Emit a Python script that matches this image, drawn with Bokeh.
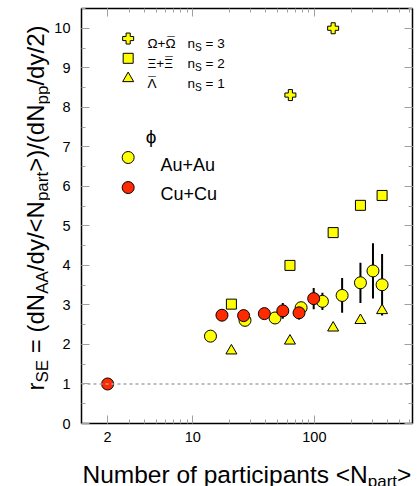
import numpy as np
from bokeh.plotting import figure
from bokeh.layouts import row, column
from bokeh.models import (Label, LogAxis, LinearAxis, FixedTicker, SingleIntervalTicker,
                          Span, Range1d, BasicTickFormatter)
from bokeh.embed import file_html
from bokeh.resources import INLINE

# ---------------- data ----------------
omega_npart = [63.5, 142.6]
omega_rse = [8.31, 10.0]

xi_npart = [20.8, 63.0, 142.6, 239.0, 360.0]
xi_rse = [3.02, 4.00, 4.83, 5.52, 5.77]
xi_err = [0.0, 0.0, 0.0, 0.0, 0.12]

lam_npart = [20.8, 63.0, 142.6, 239.0, 360.0]
lam_rse = [1.84, 2.09, 2.42, 2.61, 2.86]

auau_npart = [14.0, 26.9, 47.5, 77.8, 116.4, 169.0, 239.0, 303.0, 360.0]
auau_rse = [2.21, 2.61, 2.67, 2.93, 3.09, 3.24, 3.56, 3.86, 3.51]
auau_err = [0.0, 0.0, 0.0, 0.12, 0.22, 0.44, 0.51, 0.70, 0.78]

cucu_npart = [2.0, 17.4, 26.2, 38.8, 55.0, 74.8, 98.7]
cucu_rse = [1.00, 2.74, 2.73, 2.78, 2.85, 2.80, 3.16]
cucu_err = [0.0, 0.0, 0.0, 0.0, 0.20, 0.17, 0.27]

x_ticks = [2, 10, 100]
x_tick_labels = ["2", "10", "100"]
y_ticks = list(range(0, 11))
y_tick_labels = [str(v) for v in y_ticks]

# legend: (left part, barred symbol, n_S)
legend_prefix = ["Ω+", "Ξ+", ""]
legend_barred = ["Ω", "Ξ", "Λ"]
legend_ns = ["3", "2", "1"]

# ---------------- style ----------------
FONT = "Liberation Sans"
YELLOW = "#ffff00"
RED = "#ff2a00"
TICK = "#a0a0a0"

W = {' ': 278, '(': 333, ')': 333, '/': 278, '<': 584, '>': 584, '=': 584, '+': 584,
     'A': 667, 'E': 667, 'N': 722, 'S': 667, 'a': 556, 'd': 556, 'e': 556, 'm': 833,
     'b': 556, 'r': 333, 'o': 556, 'f': 278, 'p': 556, 't': 278, 'i': 222, 'c': 500,
     'n': 556, 's': 500, 'u': 556, 'y': 500, 'Ω': 768, 'Ξ': 667, 'Λ': 667}
for ch in "0123456789":
    W[ch] = 556


def tw(s, size):
    return sum(W.get(c, 556) for c in s) / 1000.0 * size


# page layout: y-title strip (x 0..50), main plot (x 50..420, y 0..449), x-title strip (y 449..486)
YW, MW, MH, TOTH = 50, 370, 449, 486

p = figure(width=MW, height=MH, x_axis_type="log",
           x_range=Range1d(1.22, 640), y_range=Range1d(0, 10.5),
           output_backend="svg", toolbar_location=None, frame_align=False,
           min_border_left=31, min_border_right=8, min_border_top=8, min_border_bottom=26)
p.xgrid.visible = False
p.ygrid.visible = False
p.background_fill_color = "white"
p.border_fill_color = "white"
p.outline_line_color = "black"
p.outline_line_width = 1.5

x_minor = [m * 10 ** e for e in (0, 1, 2) for m in range(2, 10)]


def style_axis(ax, labels=True):
    ax.axis_line_color = None
    ax.major_tick_line_color = TICK
    ax.minor_tick_line_color = TICK
    ax.major_tick_in = 8
    ax.major_tick_out = 0
    ax.minor_tick_in = 4
    ax.minor_tick_out = 0
    ax.major_label_text_font = FONT
    ax.major_label_text_font_size = "14.5px"
    ax.major_label_text_color = "black"
    if not labels:
        ax.major_label_text_font_size = "1px"
        ax.major_label_text_color = None
        ax.major_label_standoff = 0


p.xaxis.ticker = FixedTicker(ticks=x_ticks, minor_ticks=x_minor)
p.xaxis.formatter = BasicTickFormatter()
p.xaxis.major_label_overrides = {t: l for t, l in zip(x_ticks, x_tick_labels)}
p.yaxis.ticker = SingleIntervalTicker(interval=1, num_minor_ticks=2)
p.yaxis.major_label_overrides = {t: l for t, l in zip(y_ticks, y_tick_labels)}
for ax in p.xaxis:
    style_axis(ax)
    ax.major_label_standoff = 8
for ax in p.yaxis:
    style_axis(ax)
    ax.major_label_standoff = 11

top = LogAxis(ticker=FixedTicker(ticks=x_ticks, minor_ticks=x_minor),
              formatter=BasicTickFormatter())
style_axis(top, labels=False)
p.add_layout(top, "above")
right = LinearAxis(ticker=SingleIntervalTicker(interval=1, num_minor_ticks=2))
style_axis(right, labels=False)
p.add_layout(right, "right")

# reference line at unity
p.add_layout(Span(location=1, dimension="width", line_color="#a8a8a8",
                  line_dash="3 3", line_width=1.5))

# error bars
au_x = np.array(auau_npart); au_y = np.array(auau_rse); au_e = np.array(auau_err)
cu_x = np.array(cucu_npart); cu_y = np.array(cucu_rse); cu_e = np.array(cucu_err)
xi_x = np.array(xi_npart); xi_y = np.array(xi_rse); xi_e = np.array(xi_err)
for xx, yy, ee in ((au_x, au_y, au_e), (cu_x, cu_y, cu_e), (xi_x, xi_y, xi_e)):
    m = ee > 0
    p.segment(x0=xx[m], y0=(yy - ee)[m], x1=xx[m], y1=(yy + ee)[m],
              line_color="black", line_width=2)

MK = dict(line_color="black", line_width=1)
p.scatter(auau_npart, auau_rse, marker="circle", size=12, fill_color=YELLOW, **MK)
p.scatter(xi_npart, xi_rse, marker="square", size=10, fill_color=YELLOW, **MK)
p.scatter(lam_npart, lam_rse, marker="triangle", size=11, fill_color=YELLOW, **MK)
p.scatter(omega_npart, omega_rse, marker="plus", size=11, fill_color=YELLOW, **MK)
p.scatter(cucu_npart, cucu_rse, marker="circle", size=12, fill_color=RED, **MK)

# ---------------- legend (manual) ----------------
leg_x = 2.95
leg_rows_y = [9.74, 9.24, 8.73]
leg_markers = ["plus", "square", "triangle"]
leg_sizes = [11, 10, 11]
for yy, mk, sz in zip(leg_rows_y, leg_markers, leg_sizes):
    p.scatter([leg_x], [yy], marker=mk, size=sz, fill_color=YELLOW, **MK)
p.scatter([leg_x], [6.73], marker="circle", size=12, fill_color=YELLOW, **MK)
p.scatter([leg_x], [5.97], marker="circle", size=12, fill_color=RED, **MK)


def make_lab(fig, ox, oy):
    """Label helper in page pixels; (ox, oy) = page position of the figure frame's bottom-left."""
    def lab(text, px, py, size, align="left", baseline="alphabetic", angle=0):
        fig.add_layout(Label(x=px - ox, y=oy - py, x_units="screen", y_units="screen",
                             text=text, text_font=FONT, text_font_size=f"{size}px",
                             text_align=align, text_baseline=baseline, text_color="black",
                             angle=angle, angle_units="deg"))
    return lab


lab = make_lab(p, 81, 423)
LS = 13.5
row_base = [43.3, 63.3, 83.3]
for pre, bar, ns, py in zip(legend_prefix, legend_barred, legend_ns, row_base):
    lab(pre + bar, 147, py, LS)
    bx = 147 + tw(pre, LS) + tw(bar, LS) / 2.0
    lab("¯", bx, py - 2.5, LS, align="center")
    lab("n", 187, py, LS)
    lab("S", 187 + tw("n", LS), py + 3.5, LS * 0.75)
    lab("= " + ns, 205, py, LS)

lab("ϕ", 150.5, 136, 19, align="center")
lab("Au+Au", 160, 164, 18)
lab("Cu+Cu", 160, 193, 18)


# ---------------- axis titles with subscripts (separate text strips) ----------------
def strip(w, h):
    f = figure(width=w, height=h, x_range=Range1d(0, 1), y_range=Range1d(0, 1),
               x_axis_location=None, y_axis_location=None, toolbar_location=None,
               output_backend="svg", min_border=0, frame_align=False)
    f.grid.visible = False
    f.outline_line_color = None
    f.background_fill_color = "white"
    f.border_fill_color = "white"
    return f


ystrip = strip(YW, TOTH)
xstrip = strip(MW, TOTH - MH)

XBIG, BIG, SUB = 24.5, 24, 17
labx = make_lab(xstrip, YW, TOTH)
xpieces = [("Number of participants <N", False), ("part", True), (">", False)]
cx = 82
for t, sub in xpieces:
    if sub:
        labx(t, cx, 481, SUB)
        cx += tw(t, SUB)
    else:
        labx(t, cx, 474, XBIG)
        cx += tw(t, XBIG)

laby = make_lab(ystrip, 0, TOTH)
ypieces = [("r", False), ("SE", True), (" = (dN", False), ("AA", True), ("/dy/<N", False),
           ("part", True), (">)/(dN", False), ("pp", True), ("/dy/2)", False)]
cy = 390.0   # page y of the start (bottom) of the rotated title
for t, sub in ypieces:
    if sub:
        laby(t, 42, cy, SUB, angle=90)
        cy -= tw(t, SUB)
    else:
        if t.startswith(" "):
            cy -= tw(" ", BIG)
            t = t[1:]
        laby(t, 35, cy, BIG, angle=90)
        cy -= tw(t, BIG)

layout = row(ystrip, column(p, xstrip))
open("out.html", "w").write(file_html(layout, INLINE))
